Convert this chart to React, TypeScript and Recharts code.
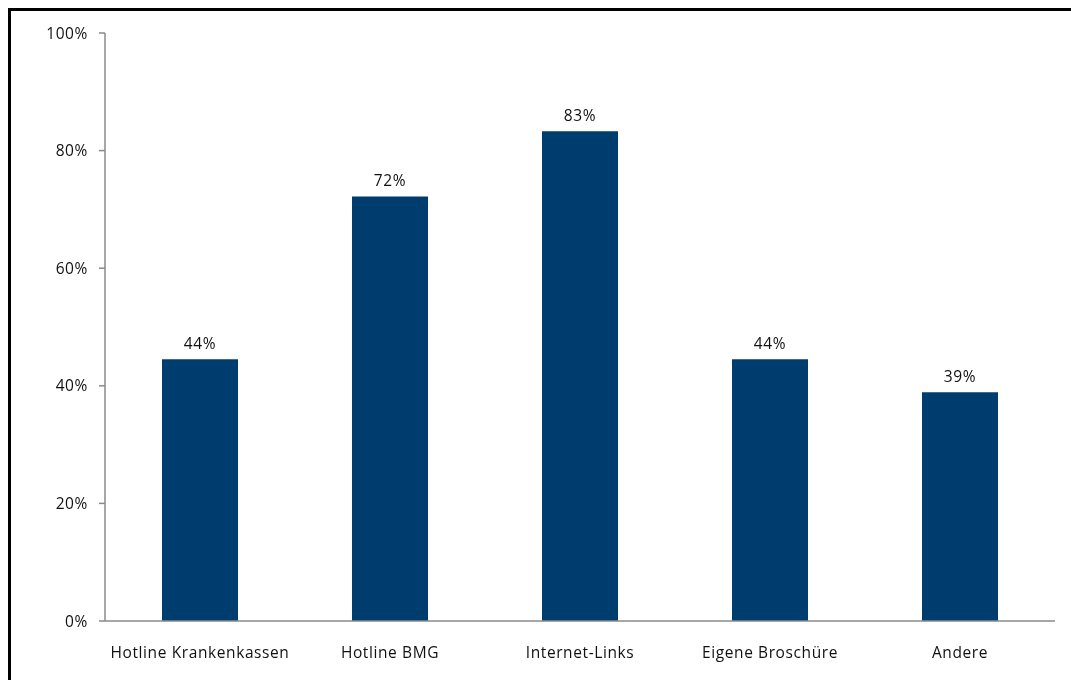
import { BarChart, Bar, XAxis, YAxis, LabelList } from 'recharts'

const CATEGORIES = ['Hotline Krankenkassen', 'Hotline BMG', 'Internet-Links', 'Eigene Broschüre', 'Andere']
const SHARES = [44.5, 72.2, 83.3, 44.5, 38.9]
const SHARE_LABELS = ['44%', '72%', '83%', '44%', '39%']
const Y_TICKS = [0, 20, 40, 60, 80, 100]

const data = CATEGORIES.map((name, i) => ({ name, share: SHARES[i], label: SHARE_LABELS[i] }))

const FONT = '"Open Sans", "Noto Sans", sans-serif'
const AXIS_GREY = '#8a8a8a'
const BAR_BLUE = '#003d6f'
const TEXT = { fill: '#111', fontSize: 15.5, fontFamily: FONT, letterSpacing: 0.6 }

export default function App() {
  // the frame runs off the right and bottom edge, as in the source picture
  return (
    <div
      style={{
        position: 'fixed',
        left: 8,
        top: 8,
        width: 1100,
        height: 700,
        boxSizing: 'border-box',
        border: '3px solid #000',
        overflow: 'hidden',
        fontFamily: FONT,
      }}
    >
      <BarChart
        width={1052}
        height={661}
        data={data}
        margin={{ top: 22, right: 8, left: 0, bottom: 11 }}
        barCategoryGap="30%"
      >
        <XAxis
          dataKey="name"
          height={40}
          tickLine={false}
          tickMargin={20}
          stroke={AXIS_GREY}
          strokeWidth={1.5}
          tick={TEXT}
          interval={0}
        />
        <YAxis
          domain={[0, 100]}
          ticks={Y_TICKS}
          tickFormatter={(v) => `${v}%`}
          width={94}
          tickSize={6}
          tickMargin={11}
          stroke={AXIS_GREY}
          strokeWidth={1.5}
          tick={TEXT}
        />
        <Bar dataKey="share" fill={BAR_BLUE} isAnimationActive={false}>
          <LabelList dataKey="label" position="top" offset={10} {...TEXT} />
        </Bar>
      </BarChart>
    </div>
  )
}
